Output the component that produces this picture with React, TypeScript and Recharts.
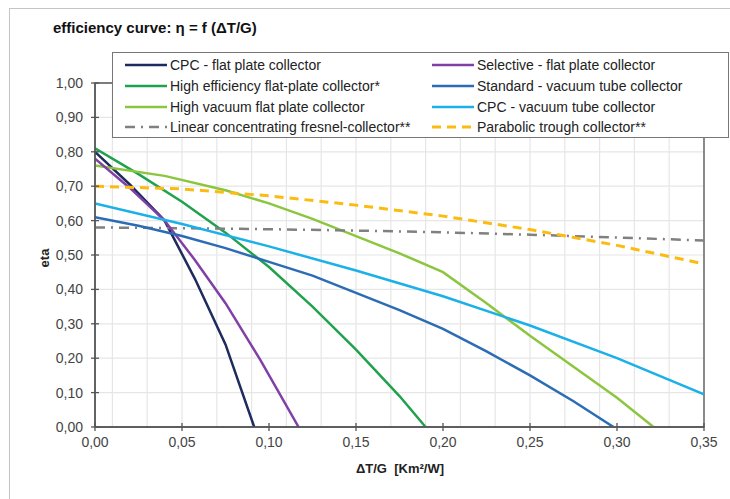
import { LineChart, Line, XAxis, YAxis, CartesianGrid, ReferenceArea } from 'recharts'

// values, x = ΔT/G, eta = efficiency
const xCpcFlat = [0, 0.02, 0.04, 0.0575, 0.075, 0.0915]
const etaCpcFlat = [0.8, 0.705, 0.6, 0.43, 0.24, 0]

const xSelective = [0, 0.02, 0.04, 0.0575, 0.075, 0.095, 0.117]
const etaSelective = [0.78, 0.695, 0.6, 0.485, 0.36, 0.195, 0]

const xHighEff = [0, 0.025, 0.05, 0.075, 0.1, 0.125, 0.15, 0.175, 0.19]
const etaHighEff = [0.81, 0.735, 0.655, 0.565, 0.465, 0.35, 0.225, 0.09, 0]

const xStdVacuum = [0, 0.025, 0.05, 0.075, 0.1, 0.125, 0.15, 0.175, 0.2, 0.225, 0.25, 0.275, 0.298]
const etaStdVacuum = [0.61, 0.585, 0.555, 0.52, 0.48, 0.44, 0.39, 0.34, 0.285, 0.22, 0.15, 0.075, 0]

const xHighVacuum = [0, 0.04, 0.075, 0.1, 0.125, 0.15, 0.175, 0.2, 0.225, 0.25, 0.275, 0.3, 0.321]
const etaHighVacuum = [0.76, 0.73, 0.688, 0.65, 0.605, 0.555, 0.505, 0.45, 0.36, 0.265, 0.175, 0.085, 0]

const xCpcVacuum = [0, 0.05, 0.1, 0.15, 0.2, 0.25, 0.3, 0.35]
const etaCpcVacuum = [0.65, 0.59, 0.525, 0.455, 0.38, 0.295, 0.2, 0.095]

const xFresnel = [0, 0.05, 0.1, 0.15, 0.2, 0.25, 0.3, 0.35]
const etaFresnel = [0.58, 0.578, 0.575, 0.571, 0.566, 0.559, 0.551, 0.542]

const xTrough = [0, 0.05, 0.1, 0.15, 0.2, 0.25, 0.3, 0.35]
const etaTrough = [0.7, 0.692, 0.672, 0.645, 0.613, 0.574, 0.528, 0.474]

const xTicks = [0, 0.05, 0.1, 0.15, 0.2, 0.25, 0.3, 0.35]
const yTicks = [0, 0.1, 0.2, 0.3, 0.4, 0.5, 0.6, 0.7, 0.8, 0.9, 1.0]
const xGrid = Array.from({ length: 36 }, (_, i) => i / 100)
const yGrid = Array.from({ length: 21 }, (_, i) => i / 20)

const zip = (xs: number[], ys: number[]) => xs.map((x, i) => ({ x, eta: ys[i] }))

// legend order: left column then right column
const series = [
  { name: 'CPC - flat plate collector', data: zip(xCpcFlat, etaCpcFlat), color: '#1d2b5e', dash: undefined, w: 2.5 },
  { name: 'High efficiency flat-plate collector*', data: zip(xHighEff, etaHighEff), color: '#20a24c', dash: undefined, w: 2.5 },
  { name: 'High vacuum flat plate collector', data: zip(xHighVacuum, etaHighVacuum), color: '#8cc63f', dash: undefined, w: 2.5 },
  { name: 'Linear concentrating fresnel-collector**', data: zip(xFresnel, etaFresnel), color: '#808080', dash: '10 6 2 6', w: 2.5 },
  { name: 'Selective - flat plate collector', data: zip(xSelective, etaSelective), color: '#8040a6', dash: undefined, w: 2.5 },
  { name: 'Standard - vacuum tube collector', data: zip(xStdVacuum, etaStdVacuum), color: '#2b6cb4', dash: undefined, w: 2.5 },
  { name: 'CPC - vacuum tube collector', data: zip(xCpcVacuum, etaCpcVacuum), color: '#1cb0e8', dash: undefined, w: 2.5 },
  { name: 'Parabolic trough collector**', data: zip(xTrough, etaTrough), color: '#fbbb10', dash: '9 6', w: 3 },
]

const fmt = (v: number) => v.toFixed(2).replace('.', ',')
const font = '"Liberation Sans", Arial, sans-serif'

function XTick(props: any) {
  const { x, y, payload } = props
  return (
    <g>
      <line x1={x} x2={x} y1={y - 9} y2={y - 1} stroke="#555" strokeWidth={1.3} />
      <text x={x} y={y + 15} textAnchor="middle" fontSize={14} fill="#444" fontFamily={font}>
        {fmt(payload.value)}
      </text>
    </g>
  )
}

function YTick(props: any) {
  const { x, y, payload } = props
  return (
    <g>
      <line x1={x + 1} x2={x + 9} y1={y} y2={y} stroke="#555" strokeWidth={1.3} />
      <text x={x - 7} y={y + 5} textAnchor="end" fontSize={14} fill="#444" fontFamily={font}>
        {fmt(payload.value)}
      </text>
    </g>
  )
}

function LegendBox() {
  const rows = 4
  return (
    <div
      style={{
        position: 'absolute', left: 112, top: 52, width: 615, height: 84,
        background: '#fff', border: '1px solid #777', fontFamily: font, fontSize: 14, color: '#222',
      }}
    >
      {series.map((s, i) => {
        const col = Math.floor(i / rows)
        const row = i % rows
        return (
          <div
            key={s.name}
            style={{ position: 'absolute', left: col === 0 ? 12 : 319, top: 2 + row * 20.8, height: 20, display: 'flex', alignItems: 'center', whiteSpace: 'nowrap' }}
          >
            <svg width={42} height={10} style={{ marginRight: 3 }}>
              <line x1={0} x2={42} y1={5} y2={5} stroke={s.color} strokeWidth={s.w} strokeDasharray={s.dash} />
            </svg>
            <span>{s.name}</span>
          </div>
        )
      })}
    </div>
  )
}

export default function App() {
  return (
    <div style={{ position: 'absolute', left: 0, top: 0, width: 730, height: 499, background: '#fff', overflow: 'hidden' }}>
      <div style={{ position: 'absolute', left: 9, top: 8, width: 760, height: 520, borderLeft: '1px solid #c4c4c4', borderTop: '1px solid #c4c4c4' }} />
      <LineChart width={730} height={499} data={[]} margin={{ top: 83, right: 26, bottom: 42, left: 35 }} style={{ position: 'absolute', left: 0, top: 0 }}>
        <CartesianGrid stroke="#e6e6e6" strokeWidth={1.2} verticalValues={xGrid} horizontalValues={yGrid} />
        <XAxis
          type="number"
          dataKey="x"
          domain={[0, 0.35]}
          ticks={xTicks}
          allowDataOverflow
          tickLine={false}
          tickSize={0}
          tickMargin={5}
          tick={<XTick />}
          axisLine={{ stroke: '#555', strokeWidth: 1.5 }}
          height={30}
        />
        <YAxis
          type="number"
          dataKey="eta"
          domain={[0, 1]}
          ticks={yTicks}
          allowDataOverflow
          tickLine={false}
          tickSize={0}
          tickMargin={5}
          tick={<YTick />}
          axisLine={{ stroke: '#555', strokeWidth: 1.5 }}
          width={60}
        />
        <ReferenceArea x1={0} x2={0.35} y1={0} y2={1} fill="none" stroke="#555" strokeWidth={1.3} />
        {series.map((s) => (
          <Line
            key={s.name}
            data={s.data}
            dataKey="eta"
            type="linear"
            stroke={s.color}
            strokeWidth={s.w}
            strokeDasharray={s.dash}
            dot={false}
            isAnimationActive={false}
          />
        ))}
      </LineChart>
      <div style={{ position: 'absolute', left: 53, top: 19, fontFamily: font, fontSize: 15, fontWeight: 'bold', color: '#111' }}>
        efficiency curve: η = f (ΔT/G)
      </div>
      <LegendBox />
      <div style={{ position: 'absolute', left: 44, top: 258, transform: 'translate(-50%, -50%) rotate(-90deg)', fontFamily: font, fontSize: 13, fontWeight: 'bold', color: '#222' }}>
        eta
      </div>
      <div style={{ position: 'absolute', left: 400, top: 468, transform: 'translate(-50%, -50%)', fontFamily: font, fontSize: 13, fontWeight: 'bold', color: '#222', whiteSpace: 'pre' }}>
        ΔT/G  [Km²/W]
      </div>
    </div>
  )
}
